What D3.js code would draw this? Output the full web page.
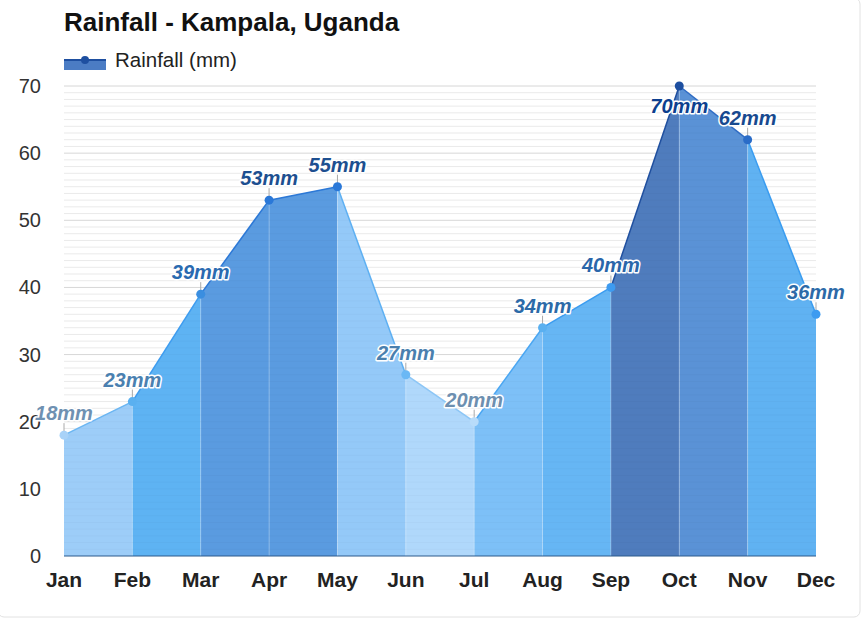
<!DOCTYPE html>
<html><head><meta charset="utf-8">
<script src="https://cdn.jsdelivr.net/npm/d3@7"></script>
<style>body{margin:0;background:#fff;font-family:"Liberation Sans",Arial,sans-serif}</style>
</head><body><svg id="c" width="866" height="623"></svg>
<script>
const months = ["Jan","Feb","Mar","Apr","May","Jun","Jul","Aug","Sep","Oct","Nov","Dec"];
const rainfall = [18,23,39,53,55,27,20,34,40,70,62,36];
const yTicks = [0,10,20,30,40,50,60,70];
const segFill = ["#9dcdf8","#5eb3f3","#5a9be0","#5a9be0","#94c9f8","#b0d8fb","#7dc0f7","#66b6f4","#4f7cbd","#5a92d6","#60b2f2"];
const segLine = ["#6bb6f2","#3d9cf0","#2c78d6","#2c78d6","#5eb0f2","#8cc6f6","#4aa6f2","#3a9cf0","#1f4f9f","#2f6cc4","#3a9cf0"];
const pointColor = ["#a8d2f8","#5ab0f0","#3a8ee0","#2a78d8","#2a78d8","#6bb8f5","#b8dcfa","#5ab0f0","#3d9bf0","#1d4fa0","#2a6cc8","#3d9bf0"];
const labelColor = ["#6f91b2","#4a80b0","#2a6ab0","#1d4f90","#1d4f90","#4a7fae","#6d8fb0","#2c6aa8","#2a66aa","#0d3f8f","#17498f","#2c6aa8"];

const svg = d3.select("#c");
const x = d3.scalePoint().domain(months).range([64,816]);
const y = d3.scaleLinear().domain([0,70]).range([556,86]);

svg.append("rect").attr("x",-2).attr("y",-2).attr("width",862).attr("height",619)
  .attr("rx",6).attr("fill","none").attr("stroke","#e2e2e2");

const g = svg.append("g");
g.selectAll("line.minor").data(d3.range(0,71,1).filter(v=>v%10!==0)).join("line")
  .attr("x1",64).attr("x2",816).attr("y1",d=>y(d)).attr("y2",d=>y(d))
  .attr("stroke","#efefef").attr("stroke-width",1);
g.selectAll("line.major").data(yTicks.slice(1)).join("line")
  .attr("x1",64).attr("x2",816).attr("y1",d=>y(d)).attr("y2",d=>y(d))
  .attr("stroke","#dcdcdc").attr("stroke-width",1);

const area = d3.area().x(d=>x(d.m)).y0(y(0)).y1(d=>y(d.v));
const line = d3.line().x(d=>x(d.m)).y(d=>y(d.v));
for(let i=0;i<months.length-1;i++){
  const seg=[{m:months[i],v:rainfall[i]},{m:months[i+1],v:rainfall[i+1]}];
  svg.append("path").attr("d",area(seg)).attr("fill",segFill[i]);
}
// faint grid visible through fill
svg.append("g").selectAll("line").data(d3.range(1,71,1)).join("line")
  .attr("x1",64).attr("x2",816).attr("y1",d=>y(d)).attr("y2",d=>y(d))
  .attr("stroke","#000").attr("stroke-opacity",0.025);
for(let i=1;i<months.length-1;i++){
  svg.append("line").attr("x1",x(months[i])).attr("x2",x(months[i]))
    .attr("y1",y(rainfall[i])).attr("y2",y(0)).attr("stroke","#ffffff").attr("stroke-opacity",0.25);
}
for(let i=0;i<months.length-1;i++){
  const seg=[{m:months[i],v:rainfall[i]},{m:months[i+1],v:rainfall[i+1]}];
  svg.append("path").attr("d",line(seg)).attr("fill","none").attr("stroke",segLine[i]).attr("stroke-width",1.5);
}
svg.append("line").attr("x1",64).attr("x2",816).attr("y1",y(0)).attr("y2",y(0))
  .attr("stroke","#2d5a8c").attr("stroke-width",1.2);

svg.append("g").selectAll("text").data(yTicks).join("text")
  .attr("x",41).attr("y",d=>y(d)+7).attr("text-anchor","end")
  .attr("font-size",20).attr("fill","#333").text(d=>d);
svg.append("g").selectAll("text").data(months).join("text")
  .attr("x",d=>x(d)).attr("y",587).attr("text-anchor","middle")
  .attr("font-size",21).attr("font-weight","bold").attr("fill","#222").text(d=>d);

months.forEach((m,i)=>{
  const px=x(m), py=y(rainfall[i]);
  if(i!==9) svg.append("line").attr("x1",px).attr("x2",px).attr("y1",py-3).attr("y2",py-12)
    .attr("stroke","#aaa").attr("stroke-width",1);
});
svg.append("g").selectAll("circle").data(months).join("circle")
  .attr("cx",d=>x(d)).attr("cy",(d,i)=>y(rainfall[i])).attr("r",4.5)
  .attr("fill",(d,i)=>pointColor[i]);

svg.append("g").selectAll("text").data(months).join("text")
  .attr("x",d=>x(d)).attr("y",(d,i)=> i===9 ? y(rainfall[i])+27 : y(rainfall[i])-15)
  .attr("text-anchor","middle").attr("font-size",20).attr("font-weight","bold").attr("font-style","italic")
  .attr("fill",(d,i)=>labelColor[i]).attr("stroke","#fff").attr("stroke-width",3)
  .attr("stroke-linejoin","round").attr("paint-order","stroke")
  .text((d,i)=>rainfall[i]+"mm");

svg.append("text").attr("x",64).attr("y",31).attr("font-size",26).attr("font-weight","bold")
  .attr("fill","#111").text("Rainfall - Kampala, Uganda");
svg.append("rect").attr("x",64).attr("y",60).attr("width",42).attr("height",10).attr("fill","#4b7cc4");
svg.append("line").attr("x1",64).attr("x2",106).attr("y1",60).attr("y2",60).attr("stroke","#1e4fa0").attr("stroke-width",2);
svg.append("circle").attr("cx",85).attr("cy",60).attr("r",4).attr("fill","#1e4fa0");
svg.append("text").attr("x",115).attr("y",67).attr("font-size",20.5).attr("fill","#222").text("Rainfall (mm)");
</script></body></html>
